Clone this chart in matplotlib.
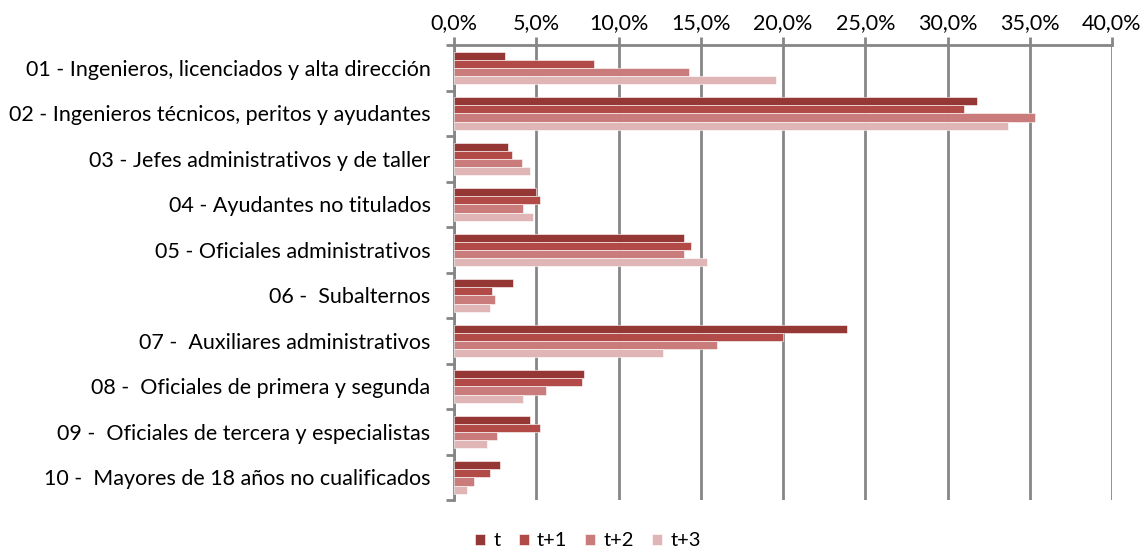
import numpy as np
import matplotlib.pyplot as plt
from matplotlib.ticker import FuncFormatter

plt.rcParams['font.family'] = ['Lato', 'DejaVu Sans']

categories = [
    '01 - Ingenieros, licenciados y alta dirección',
    '02 - Ingenieros técnicos, peritos y ayudantes',
    '03 - Jefes administrativos y de taller',
    '04 - Ayudantes no titulados',
    '05 - Oficiales administrativos',
    '06 -  Subalternos',
    '07 -  Auxiliares administrativos',
    '08 -  Oficiales de primera y segunda',
    '09 -  Oficiales de tercera y especialistas',
    '10 -  Mayores de 18 años no cualificados',
]
series = ['t', 't+1', 't+2', 't+3']
t0 = [3.1, 31.8, 3.3, 5.0, 14.0, 3.6, 23.9, 7.9, 4.6, 2.8]
t1 = [8.5, 31.0, 3.5, 5.2, 14.4, 2.3, 20.0, 7.8, 5.2, 2.2]
t2 = [14.3, 35.3, 4.1, 4.2, 14.0, 2.5, 16.0, 5.6, 2.6, 1.2]
t3 = [19.6, 33.7, 4.6, 4.8, 15.4, 2.2, 12.7, 4.2, 2.0, 0.8]
colors = ['#953735', '#B24B48', '#C97C7B', '#DFB5B5']

fig = plt.figure(figsize=(11.44, 5.52), dpi=100)
ax = fig.add_axes([0.397, 0.094, 0.575, 0.824])

y = np.arange(len(categories))
h = 0.18
for i, (vals, c, name) in enumerate(zip([t0, t1, t2, t3], colors, series)):
    ax.barh(y - 0.27 + i * h, vals, height=h, color=c, edgecolor='white',
            linewidth=0.4, label=name, zorder=3)

ax.set_xlim(0, 40)
ax.set_xticks(np.arange(0, 41, 5))
ax.xaxis.set_major_formatter(FuncFormatter(lambda v, p: f'{v:.1f}%'.replace('.', ',')))
ax.xaxis.tick_top()
ax.grid(axis='x', color='#868686', linewidth=2, zorder=0)

ax.set_ylim(len(categories) - 0.5, -0.5)
ax.set_yticks(np.arange(-0.5, len(categories), 1))
ax.set_yticklabels([])
ax.set_yticks(y, minor=True)
ax.set_yticklabels(categories, minor=True)
ax.tick_params(axis='y', which='minor', length=0, pad=17, labelsize=15.5)
ax.tick_params(axis='y', which='major', length=6, width=2, color='#868686')
ax.tick_params(axis='x', length=6, width=2, color='#868686', labelsize=15.5, pad=3)

for s in ['right', 'bottom']:
    ax.spines[s].set_visible(False)
for s in ['top', 'left']:
    ax.spines[s].set_color('#868686')
    ax.spines[s].set_linewidth(2)

fig.legend(loc='center', bbox_to_anchor=(0.514, 0.02), ncol=4, frameon=False,
           fontsize=14.5, handlelength=0.5, handleheight=0.5, handletextpad=0.4,
           columnspacing=0.9, borderpad=0)

fig.savefig('out.png', dpi=100)
